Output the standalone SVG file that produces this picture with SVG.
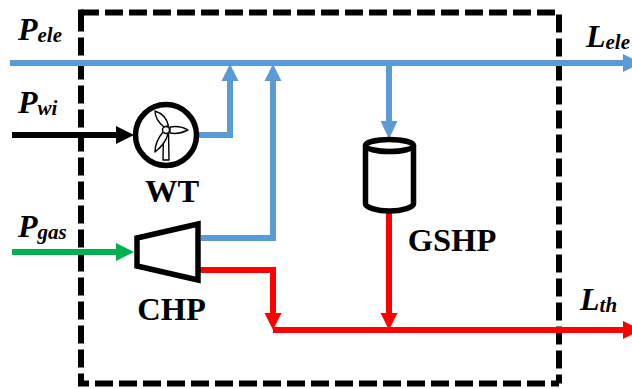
<svg xmlns="http://www.w3.org/2000/svg" width="632" height="389" viewBox="0 0 632 389">
<style>
.w{fill:none;stroke-width:6;stroke-linejoin:miter}
.b{stroke:#5b9bd5}.r{stroke:#f00}.k{stroke:#000}.g{stroke:#00b050}
.hb{fill:#5b9bd5}.hr{fill:#f00}.hk{fill:#000}.hg{fill:#00b050}
.s{fill:none;stroke:#000;stroke-width:5.5}
.bl{fill:#fff;stroke:#000;stroke-width:1.4;stroke-linejoin:round}
.d{fill:none;stroke:#000;stroke-width:6;stroke-dasharray:18 6}
text{font-family:"Liberation Serif","Times New Roman",serif;font-weight:bold;fill:#000}
.v{font-style:italic;font-size:32px}
.v tspan{font-size:21px}
.n{font-size:32.500px}
</style>
<g id="boundary">
<path class="d" d="M81 12.500H559V383.500"/>
<path class="d" d="M81 13.500V383.500H559"/>
<path d="M78 12.500H84" fill="none" stroke="#000" stroke-width="6"/>
</g>
<g id="connectors">
<path class="w b" d="M10 63H623"/><polygon class="hb" points="623,54 641,63 623,72"/>
<path class="w b" d="M199 135H230V81"/><polygon class="hb" points="221.500,81 230,64 238.500,81"/>
<path class="w b" d="M201 238H273V81"/><polygon class="hb" points="264.500,81 273,64 281.500,81"/>
<path class="w b" d="M389 63V122"/><polygon class="hb" points="380.500,121 389,139 397.500,121"/>
<path class="w k" d="M12 135H118"/><polygon class="hk" points="116,126 134,135 116,144"/>
<path class="w g" d="M12 252H118"/><polygon class="hg" points="116,243 134,252 116,261"/>
<path class="w r" d="M200 270H273V315"/><polygon class="hr" points="264.500,313 273,330 281.500,313"/>
<path class="w r" d="M273 330H623"/><polygon class="hr" points="623,321 641,330 623,339"/>
<path class="w r" d="M389 211V315"/><polygon class="hr" points="380.500,313 389,330 397.500,313"/>
</g>
<g id="WT">
<circle class="s" cx="166" cy="135" r="30.500"/>
<path class="bl" d="M163.500 132L163 160H169L168.500 132Z"/>
<path class="bl" d="M164 127C158 122 155 116 155 111C161 113 167 118 168.500 126Z"/>
<path class="bl" d="M170 127C176 126 183 127 188 130C182 133 175 134 170 133Z"/>
<path class="bl" d="M163 132C158 138 155 146 155 152C160 148 166 142 168 134Z"/>
<circle class="bl" cx="166" cy="130" r="3.500"/>
<text class="n" x="172" y="202" text-anchor="middle">WT</text>
</g>
<g id="CHP">
<polygon class="s" points="137,238 198,224 198,280 137,266"/>
<text class="n" x="171.500" y="320" text-anchor="middle">CHP</text>
</g>
<g id="GSHP">
<path class="s" d="M365.500 145V204C365.500 207 376 211 389.500 211S413.500 207 413.500 204V145"/>
<ellipse class="s" cx="389.500" cy="145.500" rx="24" ry="6"/>
<text class="n" x="452" y="251" text-anchor="middle">GSHP</text>
</g>
<g id="labels">
<text class="v" x="18" y="39.500">P<tspan dy="2">ele</tspan></text>
<text class="v" x="18" y="113">P<tspan dy="2">wi</tspan></text>
<text class="v" x="18" y="237">P<tspan dy="2">gas</tspan></text>
<text class="v" x="586" y="47">L<tspan dy="2">ele</tspan></text>
<text class="v" x="580" y="310">L<tspan dy="2">th</tspan></text>
</g>
</svg>
